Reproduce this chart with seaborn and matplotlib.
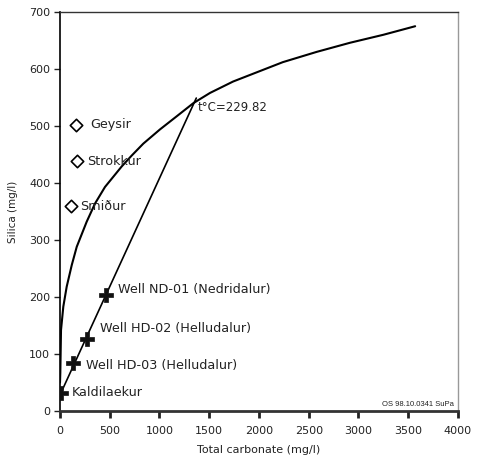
import matplotlib
matplotlib.use("Agg")
import matplotlib.pyplot as plt
import seaborn as sns

# Boiling / solubility curve
curve_x = [0, 3, 10, 33, 67, 118, 168, 268, 352, 452, 620, 720, 837, 1005, 1173, 1340, 1508, 1740, 2240, 2580, 2915, 3250, 3570]
curve_y = [50, 67, 142, 183, 218, 256, 288, 332, 364, 393, 429, 448, 469, 494, 517, 540, 558, 578, 612, 630, 646, 660, 675]

# Mixing line
mix_x = [10, 1370]
mix_y = [32, 549]

# Wells (plus markers)
well_names = ["Kaldilaekur", "Well HD-03 (Helludalur)", "Well HD-02 (Helludalur)", "Well ND-01 (Nedridalur)"]
well_x = [10, 134, 275, 459]
well_y = [32, 85, 126, 204]
well_lx = [120, 260, 400, 580]
well_ly = [32, 79, 144, 214]

# Hot springs (diamonds)
spring_names = ["Geysir", "Strokkur", "Smiður"]
spring_x = [160, 170, 110]
spring_y = [502, 438, 360]
spring_lx = [300, 270, 205]
spring_ly = [502, 438, 358]

temp_label = "t°C=229.82"
temp_pos = (1385, 532)

x_ticks = [0, 500, 1000, 1500, 2000, 2500, 3000, 3500, 4000]
y_ticks = [0, 100, 200, 300, 400, 500, 600, 700]

sns.set_style("white")
plt.rcParams['font.family'] = ['DejaVu Sans']

fig = plt.figure(figsize=(4.79, 4.61), dpi=100)
ax = fig.add_axes([0.1253, 0.1085, 0.956 - 0.1253, 0.974 - 0.1085])

sns.lineplot(x=curve_x, y=curve_y, sort=False, ax=ax, color="black", lw=1.5)
sns.lineplot(x=mix_x, y=mix_y, sort=False, ax=ax, color="black", lw=1.2)
sns.scatterplot(x=well_x, y=well_y, ax=ax, marker="P", s=90, color="#111111",
                edgecolor="#111111", linewidth=0.5, zorder=5)
sns.scatterplot(x=spring_x, y=spring_y, ax=ax, marker="D", s=40, facecolor="white",
                edgecolor="black", linewidth=1.2, zorder=5)

for n, x, y in zip(well_names, well_lx, well_ly):
    ax.text(x, y, n, fontsize=9.2, va="center", ha="left", color="#222222")
for n, x, y in zip(spring_names, spring_lx, spring_ly):
    ax.text(x, y, n, fontsize=9.2, va="center", ha="left", color="#222222")
ax.text(temp_pos[0], temp_pos[1], temp_label, fontsize=8.5, va="center", ha="left", color="#222222")
ax.text(3960, 12, "OS 98.10.0341 SuPa", fontsize=5.5, family="Liberation Sans",
        ha="right", va="center", color="#222222")

ax.set_xlim(0, 4000)
ax.set_ylim(0, 700)
ax.set_xticks(x_ticks)
ax.set_yticks(y_ticks)
ax.tick_params(bottom=True, left=True, top=False, right=False)
ax.tick_params(axis="both", labelsize=8, labelcolor="#222222")
ax.tick_params(axis="x", direction="out", length=5, width=2, color="#222222", pad=6)
ax.tick_params(axis="y", direction="out", length=4, width=1, color="#222222", pad=3)
ax.set_xlabel("Total carbonate (mg/l)", fontsize=8, color="#222222", labelpad=6)
ax.set_ylabel("Silica (mg/l)", fontsize=7.5, color="#222222", labelpad=8)

ax.spines["left"].set_color("black")
ax.spines["left"].set_linewidth(1.2)
ax.spines["bottom"].set_color("#333333")
ax.spines["bottom"].set_linewidth(2)
ax.spines["top"].set_color("#333333")
ax.spines["top"].set_linewidth(1)
ax.spines["right"].set_color("#999999")
ax.spines["right"].set_linewidth(1)

fig.savefig("out.png", dpi=100)
